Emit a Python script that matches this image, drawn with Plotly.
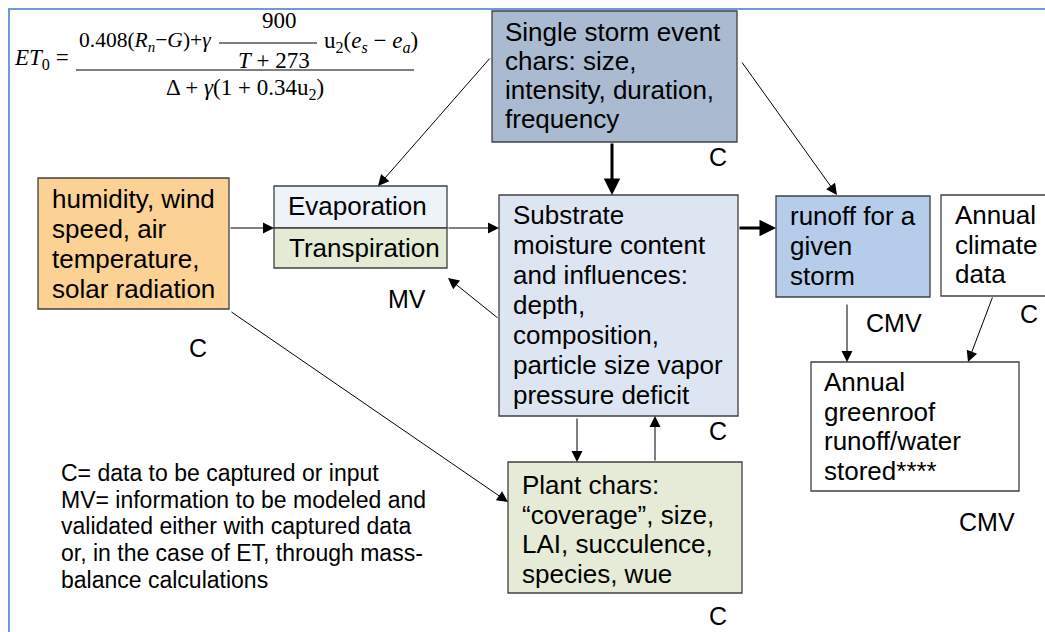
import plotly.graph_objects as go

W, H = 1045, 632

# ---- text content ----
storm_text = ["Single storm event", "chars: size,", "intensity, duration,", "frequency"]
weather_text = ["humidity, wind", "speed, air", "temperature,", "solar radiation"]
evap_text = ["Evaporation"]
transp_text = ["Transpiration"]
substrate_text = ["Substrate", "moisture content", "and influences:", "depth,",
                  "composition,", "particle size vapor", "pressure deficit"]
runoff_text = ["runoff for a", "given", "storm"]
climate_text = ["Annual", "climate", "data"]
annual_text = ["Annual", "greenroof", "runoff/water", "stored****"]
plant_text = ["Plant chars:", "\u201ccoverage\u201d, size,", "LAI, succulence,", "species, wue"]
legend_text = ["C= data to be captured or input",
               "MV= information to be modeled and",
               "validated either with captured data",
               "or, in the case of ET, through mass-",
               "balance calculations"]
tag_text = ["C", "C", "MV", "C", "CMV", "C", "CMV", "C"]

# ---- layout of boxes: (lines, x0, y0, x1, y1, fill, text x, first line y, line pitch)
boxes = [
    (storm_text, 492, 11, 737, 142, "#AABAD0", 503, 32, 29),
    (weather_text, 38, 178, 229, 309, "#FBD293", 50, 199, 30),
    (evap_text, 274, 186, 447, 228, "#EEF2F9", 286, 206, 0),
    (transp_text, 274, 228, 447, 268, "#E3EBD5", 287, 248, 0),
    (substrate_text, 499, 195, 738, 416, "#DCE5F1", 511, 215, 30),
    (runoff_text, 776, 196, 930, 297, "#B5CCEA", 788, 216, 30),
    (climate_text, 941, 195, 1060, 296, "#FFFFFF", 953, 215, 29.5),
    (annual_text, 811, 362, 1019, 491, "#FFFFFF", 822, 382, 29.7),
    (plant_text, 508, 462, 742, 593, "#E5EBD6", 520, 485, 29.5),
]
tag_pos = [(718, 157), (198, 348), (407, 299), (718, 431),
           (894, 323), (1029, 314), (987, 522), (718, 616)]

# arrows: (tail x, tail y, head x, head y, width)
arrows = [
    (491, 57, 378, 186, 1),
    (612, 142, 612, 195, 3),
    (741, 61, 837, 195, 1),
    (229, 228, 274, 228, 1),
    (447, 228, 499, 228, 1),
    (499, 319, 448, 278, 1),
    (230, 311, 508, 502, 1),
    (738, 228, 776, 228, 3),
    (577, 417, 577, 462, 1),
    (655, 462, 655, 416, 1),
    (847, 303, 847, 362, 1),
    (993, 296, 968, 362, 1),
]

SANS = "Liberation Sans, Arial, sans-serif"
SERIF = "Liberation Serif, Times New Roman, serif"

fig = go.Figure()
shapes = []
annotations = []

# outer frame (top + left edges)
shapes.append(dict(type="path", path=f"M 9 {H} L 9 9 L {W} 9",
                   line=dict(color="#6F9AD6", width=2)))

for lines, x0, y0, x1, y1, fill, tx, ty, pitch in boxes:
    shapes.append(dict(type="rect", x0=x0, y0=y0, x1=x1, y1=y1,
                       fillcolor=fill, line=dict(color="#404040", width=1.3)))
    for i, s in enumerate(lines):
        annotations.append(dict(x=tx, y=ty + i * pitch, text=s, showarrow=False,
                                xanchor="left", yanchor="middle",
                                font=dict(family=SANS, size=26, color="#000000")))

for s, (x, y) in zip(tag_text, tag_pos):
    annotations.append(dict(x=x, y=y, text=s, showarrow=False,
                            xanchor="center", yanchor="middle",
                            font=dict(family=SANS, size=25, color="#000000")))

for i, s in enumerate(legend_text):
    annotations.append(dict(x=59, y=473 + i * 26.7, text=s, showarrow=False,
                            xanchor="left", yanchor="middle",
                            font=dict(family=SANS, size=23, color="#000000")))

for tx, ty, hx, hy, w in arrows:
    annotations.append(dict(x=hx, y=hy, ax=tx, ay=ty, xref="x", yref="y",
                            axref="x", ayref="y", text="", showarrow=True,
                            arrowhead=2, arrowsize=2.2 if w == 1 else 1.1,
                            arrowwidth=w, arrowcolor="#000000", standoff=0))

# Penman-Monteith formula
fml = dict(family=SERIF, size=23, color="#000000")
fml_num = dict(family=SERIF, size=21.5, color="#000000")
annotations += [
    dict(x=12, y=59, text="<i>ET</i><sub>0</sub> =", xanchor="left", font=fml),
    dict(x=77, y=41, text="0.408(<i>R<sub>n</sub></i>\u2212<i>G</i>)+<i>\u03b3</i>",
         xanchor="left", font=fml_num),
    dict(x=279, y=20, text="900", xanchor="center", font=fml),
    dict(x=274, y=60, text="<i>T</i> + 273", xanchor="center", font=fml),
    dict(x=322, y=42, text="u<sub>2</sub>(<i>e<sub>s</sub></i> \u2212 <i>e<sub>a</sub></i>)",
         xanchor="left", font=fml),
    dict(x=245, y=89, text="\u0394 + <i>\u03b3</i>(1 + 0.34u<sub>2</sub>)",
         xanchor="center", font=fml),
]
for a in annotations[-6:]:
    a.update(showarrow=False, yanchor="middle")
shapes.append(dict(type="line", x0=76, x1=414, y0=70, y1=70,
                   line=dict(color="#000000", width=1.2)))
shapes.append(dict(type="line", x0=219, x1=317, y0=43, y1=43,
                   line=dict(color="#000000", width=1.2)))

fig.update_layout(
    width=W, height=H,
    margin=dict(l=0, r=0, t=0, b=0),
    paper_bgcolor="#FFFFFF", plot_bgcolor="#FFFFFF",
    xaxis=dict(range=[0, W], visible=False, fixedrange=True),
    yaxis=dict(range=[H, 0], visible=False, fixedrange=True),
    shapes=shapes, annotations=annotations, showlegend=False,
)

fig.write_html("out.html", config={"displayModeBar": False},
               post_script="document.body.style.margin='0px';")
